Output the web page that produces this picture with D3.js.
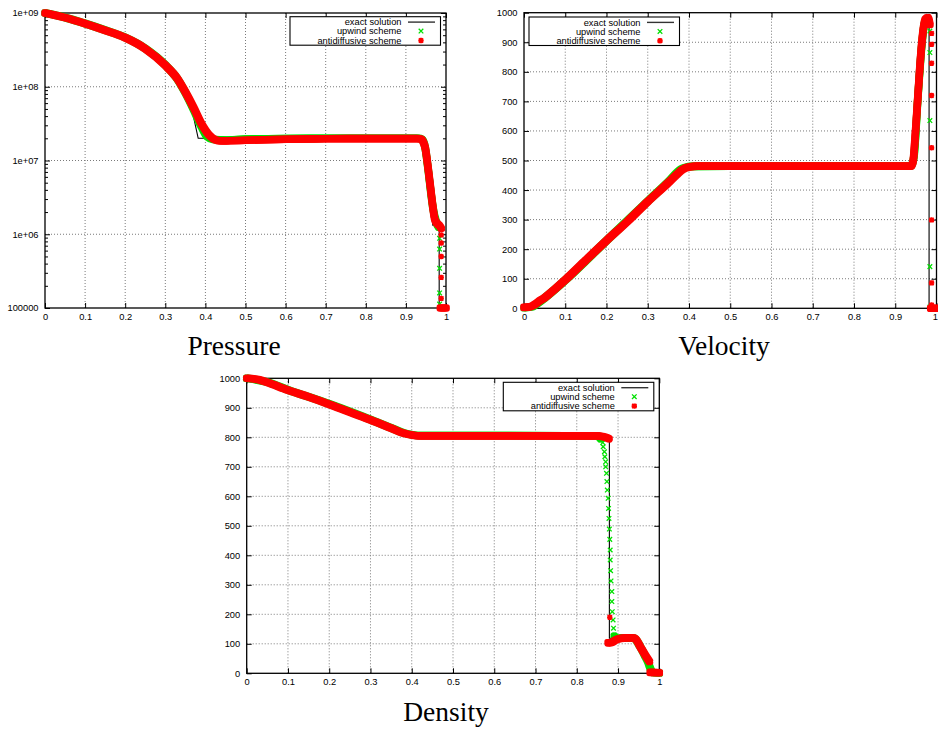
<!DOCTYPE html>
<html><head><meta charset="utf-8">
<script src="https://cdn.jsdelivr.net/npm/d3@7"></script>
<style>body{margin:0;background:#fff}svg{display:block}</style>
</head><body><svg id="c" width="938" height="730"></svg>
<script>
// ---------- tick labels ----------
const xTickValues = [0,0.1,0.2,0.3,0.4,0.5,0.6,0.7,0.8,0.9,1];
const xTickLabels = ["0","0.1","0.2","0.3","0.4","0.5","0.6","0.7","0.8","0.9","1"];
const logTickValues = [1e5,1e6,1e7,1e8,1e9];
const logTickLabels = ["100000","1e+06","1e+07","1e+08","1e+09"];
const linTickValues = [0,100,200,300,400,500,600,700,800,900,1000];
const linTickLabels = ["0","100","200","300","400","500","600","700","800","900","1000"];
const pressureDomain = [1e5,1e9];
const linearDomain = [0,1000];
const legendLabels = ["exact solution","upwind scheme","antidiffusive scheme"];
const titles = ["Pressure","Velocity","Density"];

// ---------- Pressure ----------
const pressureExact = [[0,1e9],[0.05,8.65e8],[0.1,7.17e8],[0.15,5.82e8],[0.2,4.63e8],[0.25,3.28e8],[0.3,1.95e8],[0.33,1.25e8],[0.35,8.0e7],[0.36,6.3e7],[0.37,4.0e7],[0.382,2.0e7],[0.945,2.0e7],[0.967,1.33e6],[0.983,1.33e6],[0.983,1e5],[1,1e5]];
const pressureUpwindBand = [[0,1e9],[0.05,8.7e8],[0.1,7.2e8],[0.15,5.85e8],[0.2,4.65e8],[0.25,3.3e8],[0.3,1.97e8],[0.33,1.28e8],[0.35,8.3e7],[0.37,5.0e7],[0.39,2.9e7],[0.405,2.1e7],[0.42,1.93e7],[0.45,1.9e7],[0.5,1.95e7],[0.6,1.99e7],[0.7,2.0e7],[0.93,2.0e7],[0.94,1.93e7],[0.948,1.5e7],[0.956,7.2e6],[0.962,3.8e6],[0.968,2.2e6],[0.975,1.5e6],[0.982,1.25e6]];
const pressureUpwindPoints = [[0.984,8.8e5],[0.984,6.3e5],[0.984,3.45e5],[0.984,1.6e5],[0.984,1.13e5]];
const pressureAntiBand = [[0,1e9],[0.02,9.5e8],[0.05,8.65e8],[0.1,7.17e8],[0.15,5.82e8],[0.2,4.63e8],[0.25,3.28e8],[0.3,1.95e8],[0.33,1.29e8],[0.35,8.5e7],[0.37,5.3e7],[0.39,3.16e7],[0.41,2.19e7],[0.425,1.9e7],[0.44,1.84e7],[0.46,1.85e7],[0.5,1.88e7],[0.6,1.94e7],[0.7,1.97e7],[0.8,1.98e7],[0.93,1.98e7],[0.938,1.95e7],[0.943,1.8e7],[0.948,1.5e7],[0.956,7.4e6],[0.962,4.0e6],[0.967,2.4e6],[0.972,1.6e6],[0.978,1.4e6],[0.984,1.3e6],[0.988,1.2e6]];
const pressureAntiTail = [[0.986,1e5],[1,1e5]];
const pressureAntiPoints = [[0.988,9.8e5],[0.988,7.6e5],[0.988,5.0e5],[0.988,2.6e5],[0.988,1.35e5]];

// ---------- Velocity ----------
const velocityExact = [[0,0],[0.027,0],[0.1,97],[0.2,232],[0.3,365],[0.383,480],[0.942,480],[0.968,975],[0.982,975],[0.982,0],[1,0]];
const velocityUpwindBand = [[0,2],[0.02,5],[0.03,14],[0.05,35],[0.1,95],[0.2,229],[0.3,362],[0.35,428],[0.38,470],[0.39,476],[0.41,480],[0.5,481],[0.938,481],[0.945,510],[0.955,715],[0.965,900],[0.972,970],[0.979,978]];
const velocityUpwindPoints = [[0.984,938],[0.984,865],[0.984,635],[0.984,141],[0.984,4]];
const velocityAntiBand = [[0,3],[0.015,5],[0.025,12],[0.035,22],[0.05,36],[0.075,65],[0.1,96],[0.15,163],[0.2,229],[0.25,293],[0.3,361],[0.35,425],[0.37,452],[0.385,470],[0.4,478],[0.42,481],[0.5,481],[0.7,481],[0.938,481],[0.943,495],[0.948,575],[0.955,720],[0.962,860],[0.968,945],[0.973,978],[0.979,984],[0.984,960]];
const velocityAntiTail = [[0.986,0],[1,0]];
const velocityAntiPoints = [[0.988,930],[0.988,893],[0.988,829],[0.988,720],[0.988,543],[0.988,299],[0.988,86],[0.988,11]];

// ---------- Density ----------
const densityExact = [[0,1000],[0.027,1000],[0.1,962],[0.2,912],[0.3,859],[0.35,832],[0.383,806],[0.879,806],[0.879,119],[0.945,119],[0.975,40],[0.978,40],[0.978,1],[1,1]];
const densityUpwindBand = [[0,1000],[0.05,987],[0.1,961],[0.2,913],[0.3,860],[0.35,832],[0.38,815],[0.4,809],[0.42,806],[0.6,806],[0.85,805],[0.858,795]];
const densityUpwindPoints = [[0.863,782],[0.864,768],[0.867,751],[0.868,734],[0.870,717],[0.870,700],[0.872,678],[0.873,650],[0.874,621],[0.876,593],[0.877,559],[0.878,525],[0.879,489],[0.880,454],[0.881,418],[0.881,384],[0.882,348],[0.883,313],[0.885,277],[0.885,243],[0.886,209],[0.888,181],[0.889,153],[0.891,126]];
const densityUpwindTail = [[0.891,126],[0.895,118],[0.91,120],[0.935,120],[0.942,116],[0.953,92],[0.965,60],[0.972,40],[0.976,25],[0.98,10],[0.984,3],[1,1]];
const densityAntiBand = [[0,1000],[0.03,995],[0.05,986],[0.1,960],[0.15,937],[0.2,912],[0.25,885],[0.3,859],[0.35,831],[0.38,814],[0.4,808],[0.42,805],[0.6,805],[0.85,805],[0.86,803],[0.87,800],[0.878,795]];
const densityAntiPoints = [[0.880,190]];
const densityAntiMid = [[0.876,103],[0.885,105],[0.893,112],[0.905,118],[0.92,120],[0.935,120],[0.942,117],[0.953,92],[0.965,64],[0.976,40]];
const densityAntiTail = [[0.978,3],[1,2]];

// ---------- layout ----------
const panels = [
  {title:titles[0], left:45, right:446, top:13, bottom:308, log:true, titlePos:[234,355], legend:[290,16.7],
   exact:[pressureExact], upBands:[pressureUpwindBand], upPts:pressureUpwindPoints,
   antiBands:[pressureAntiBand, pressureAntiTail], antiPts:pressureAntiPoints},
  {title:titles[1], left:524, right:936.5, top:12.7, bottom:308.3, log:false, titlePos:[724,355], legend:[529,17],
   exact:[velocityExact], upBands:[velocityUpwindBand], upPts:velocityUpwindPoints,
   antiBands:[velocityAntiBand, velocityAntiTail], antiPts:velocityAntiPoints},
  {title:titles[2], left:246.7, right:659.3, top:378.3, bottom:673.3, log:false, titlePos:[446,721], legend:[503.3,382.3],
   exact:[densityExact], upBands:[densityUpwindBand, densityUpwindTail], upPts:densityUpwindPoints,
   antiBands:[densityAntiBand, densityAntiMid, densityAntiTail], antiPts:densityAntiPoints}
];

const RED = "#ff0000", GREEN = "#00e000";
const tickFont = "'Liberation Sans', Arial, Helvetica, sans-serif";
const svg = d3.select("#c");

function xMarker(s){ return `M${-s},${-s}L${s},${s}M${-s},${s}L${s},${-s}`; }
function starMarker(s){ const k=s*0.8; return `M0,${-s}V${s}M${-s},0H${s}M${-k},${-k}L${k},${k}M${-k},${k}L${k},${-k}`; }

function band(g, data, line, color){
  // swept rounded-square marker band
  const o = 1.1;
  [[-o,-o],[o,-o],[-o,o],[o,o]].forEach(([dx,dy])=>{
    g.append("path").attr("d", line(data)).attr("transform",`translate(${dx},${dy})`)
      .attr("fill","none").attr("stroke",color).attr("stroke-width",5.4)
      .attr("stroke-linejoin","round").attr("stroke-linecap","round");
  });
}

function styleAxis(ax){
  ax.select(".domain").remove();
  ax.attr("font-family", tickFont).attr("font-size", 9.3).attr("color","#000");
  ax.selectAll(".tick line").attr("stroke","#000").attr("stroke-width",1);
}

function drawPanel(p){
  const g = svg.append("g");
  const x = d3.scaleLinear().domain([0,1]).range([p.left,p.right]);
  const y = p.log ? d3.scaleLog().domain(pressureDomain).range([p.bottom,p.top])
                  : d3.scaleLinear().domain(linearDomain).range([p.bottom,p.top]);
  const yVals = p.log ? logTickValues : linTickValues;
  const yLabs = p.log ? logTickLabels : linTickLabels;

  // grid
  const grid = g.append("g").attr("stroke","#7a7a7a").attr("stroke-width",1).attr("stroke-dasharray","1,2");
  grid.selectAll("line.v").data(xTickValues.slice(1,-1)).join("line").attr("class","v")
    .attr("x1",d=>x(d)).attr("x2",d=>x(d)).attr("y1",p.top).attr("y2",p.bottom);
  grid.selectAll("line.h").data(yVals.slice(1,-1)).join("line").attr("class","h")
    .attr("x1",p.left).attr("x2",p.right).attr("y1",d=>y(d)).attr("y2",d=>y(d));

  // axes (inward ticks, mirrored)
  const ax1 = g.append("g").attr("transform",`translate(0,${p.bottom})`)
    .call(d3.axisBottom(x).tickValues(xTickValues).tickFormat((d,i)=>xTickLabels[i]).tickSize(-5).tickPadding(5.5));
  styleAxis(ax1);
  // keep the last label inside the page if the frame reaches the edge
  ax1.selectAll(".tick text").each(function(d){
    const node = this, bb = node.getBBox();
    const gx = x(d);
    if (gx + bb.width/2 > 937.5) d3.select(node).attr("text-anchor","end").attr("x", 937.5 - gx);
  });
  const ax2 = g.append("g").attr("transform",`translate(0,${p.top})`)
    .call(d3.axisTop(x).tickValues(xTickValues).tickFormat(()=>"").tickSize(-5));
  styleAxis(ax2);
  const ax3 = g.append("g").attr("transform",`translate(${p.left},0)`)
    .call(d3.axisLeft(y).tickValues(yVals).tickFormat((d,i)=>yLabs[i]).tickSize(-5).tickPadding(6.5));
  styleAxis(ax3);
  const ax4 = g.append("g").attr("transform",`translate(${p.right},0)`)
    .call(d3.axisRight(y).tickValues(yVals).tickFormat(()=>"").tickSize(-5));
  styleAxis(ax4);
  if (p.log){
    const minor = [];
    for (let e=5; e<9; e++) for (let m=2; m<10; m++) minor.push(m*Math.pow(10,e));
    const m1 = g.append("g").attr("transform",`translate(${p.left},0)`)
      .call(d3.axisLeft(y).tickValues(minor).tickFormat(()=>"").tickSize(-3));
    styleAxis(m1);
    const m2 = g.append("g").attr("transform",`translate(${p.right},0)`)
      .call(d3.axisRight(y).tickValues(minor).tickFormat(()=>"").tickSize(-3));
    styleAxis(m2);
  }

  // frame
  g.append("rect").attr("x",p.left).attr("y",p.top).attr("width",p.right-p.left).attr("height",p.bottom-p.top)
    .attr("fill","none").attr("stroke","#000").attr("stroke-width",1.3);

  const line = d3.line().x(d=>x(d[0])).y(d=>y(d[1]));
  const smooth = d3.line().x(d=>x(d[0])).y(d=>y(d[1])).curve(d3.curveMonotoneX);

  // exact solution
  p.exact.forEach(d=>g.append("path").attr("d",line(d)).attr("fill","none").attr("stroke","#000").attr("stroke-width",1.1));

  // upwind scheme
  p.upBands.forEach(d=>band(g,d,smooth,GREEN));
  g.append("g").selectAll("path").data(p.upPts).join("path")
    .attr("transform",d=>`translate(${x(d[0])},${y(d[1])})`).attr("d",xMarker(2.3))
    .attr("fill","none").attr("stroke",GREEN).attr("stroke-width",1.3);

  // antidiffusive scheme
  p.antiBands.forEach(d=>band(g,d,smooth,RED));
  g.append("g").selectAll("path").data(p.antiPts).join("path")
    .attr("transform",d=>`translate(${x(d[0])},${y(d[1])})`).attr("d",starMarker(2.7))
    .attr("fill","none").attr("stroke",RED).attr("stroke-width",1.7);

  // legend
  const [lx,ly] = p.legend;
  const lg = g.append("g");
  lg.append("rect").attr("x",lx).attr("y",ly).attr("width",150.5).attr("height",28.5)
    .attr("fill","#fff").attr("stroke","#000").attr("stroke-width",1.1);
  const rows = [5.4,14.4,23.8];
  legendLabels.forEach((t,i)=>{
    lg.append("text").attr("x",lx+111.5).attr("y",ly+rows[i]+3.3).attr("text-anchor","end")
      .attr("font-family",tickFont).attr("font-size",9.3).attr("fill","#000").text(t);
  });
  lg.append("line").attr("x1",lx+118).attr("x2",lx+145).attr("y1",ly+rows[0]).attr("y2",ly+rows[0])
    .attr("stroke","#333").attr("stroke-width",1.4);
  lg.append("path").attr("transform",`translate(${lx+131},${ly+rows[1]})`).attr("d",xMarker(2.3))
    .attr("fill","none").attr("stroke",GREEN).attr("stroke-width",1.3);
  lg.append("path").attr("transform",`translate(${lx+131},${ly+rows[2]})`).attr("d",starMarker(2.7))
    .attr("fill","none").attr("stroke",RED).attr("stroke-width",1.7);

  // title
  svg.append("text").attr("x",p.titlePos[0]).attr("y",p.titlePos[1]).attr("text-anchor","middle")
    .attr("font-family","'Liberation Serif','DejaVu Serif',serif").attr("font-size",27.5).attr("fill","#000")
    .text(p.title);
}

panels.forEach(drawPanel);
</script></body></html>
